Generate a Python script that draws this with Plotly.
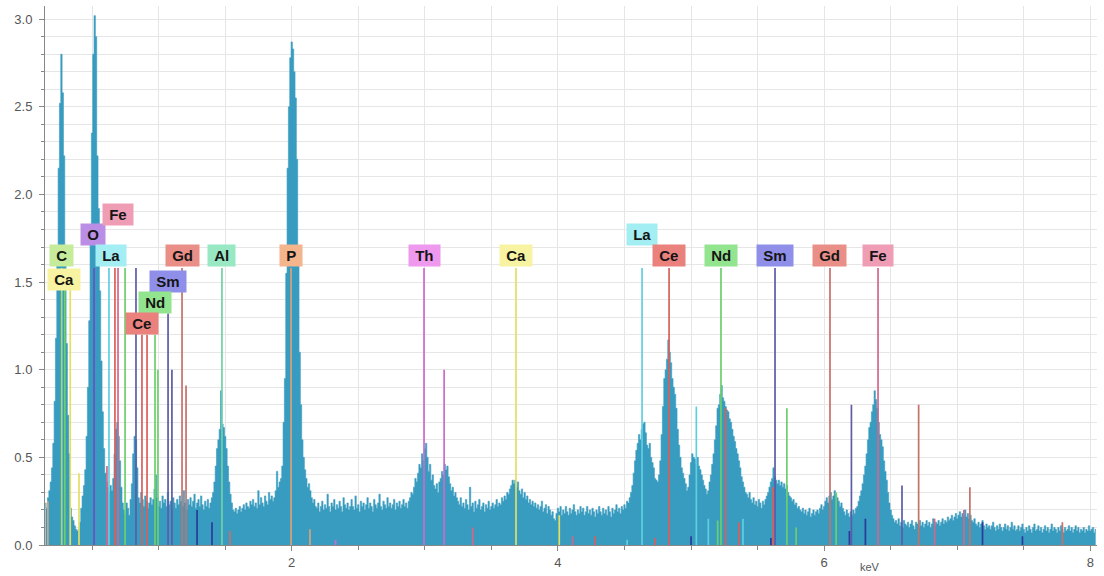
import numpy as np
import plotly.graph_objects as go

# EDS spectrum: counts per 10 eV channel, first channel at 0.15 keV
start_kev = 0.15
channel_kev = 0.01
counts = [
    0.24, 0.21, 0.27, 0.31, 0.36, 0.44, 0.58, 0.82, 1.18, 1.62,   # 0.15
    2.15, 2.52, 2.80, 2.58, 2.22, 1.63, 1.15, 0.74, 0.52, 0.21,   # 0.25
    0.16, 0.14, 0.11, 0.09, 0.08, 0.09, 0.13, 0.21, 0.28, 0.34,   # 0.35
    0.43, 0.62, 0.90, 1.28, 1.80, 2.35, 2.80, 3.02, 2.90, 2.22,   # 0.45
    1.92, 1.45, 1.05, 0.76, 0.55, 0.41, 0.36, 0.33, 0.30, 0.34,   # 0.55
    0.31, 0.38, 0.52, 0.66, 0.70, 0.62, 0.48, 0.33, 0.24, 0.20,   # 0.65
    0.18, 0.24, 0.21, 0.17, 0.26, 0.35, 0.52, 0.62, 0.60, 0.44,   # 0.75
    0.27, 0.24, 0.30, 0.26, 0.22, 0.28, 0.25, 0.21, 0.24, 0.27,   # 0.85
    0.23, 0.26, 0.32, 0.40, 0.27, 0.22, 0.25, 0.21, 0.28, 0.24,   # 0.95
    0.26, 0.22, 0.30, 0.23, 0.25, 0.20, 0.27, 0.24, 0.21, 0.26,   # 1.05
    0.23, 0.28, 0.25, 0.22, 0.31, 0.24, 0.20, 0.26, 0.23, 0.27,   # 1.15
    0.22, 0.25, 0.29, 0.21, 0.24, 0.26, 0.22, 0.28, 0.23, 0.20,   # 1.25
    0.25, 0.22, 0.26, 0.21, 0.24, 0.27, 0.30, 0.36, 0.45, 0.55,   # 1.35
    0.60, 0.66, 0.88, 0.69, 0.67, 0.62, 0.55, 0.45, 0.36, 0.29,   # 1.45
    0.24, 0.20, 0.19, 0.21, 0.18, 0.20, 0.22, 0.19, 0.21, 0.23,   # 1.55
    0.20, 0.24, 0.22, 0.21, 0.25, 0.23, 0.26, 0.22, 0.24, 0.21,   # 1.65
    0.31, 0.23, 0.27, 0.24, 0.22, 0.28, 0.25, 0.23, 0.30, 0.26,   # 1.75
    0.28, 0.25, 0.27, 0.31, 0.42, 0.33, 0.36, 0.38, 0.45, 0.70,   # 1.85
    0.95, 1.55, 2.15, 2.50, 2.78, 2.87, 2.83, 2.70, 2.55, 2.20,   # 1.95
    1.65, 1.10, 0.80, 0.60, 0.50, 0.43, 0.38, 0.33, 0.35, 0.31,   # 2.05
    0.27, 0.24, 0.26, 0.22, 0.21, 0.24, 0.19, 0.22, 0.25, 0.20,   # 2.15
    0.23, 0.21, 0.29, 0.22, 0.19, 0.24, 0.22, 0.26, 0.20, 0.23,   # 2.25
    0.21, 0.25, 0.22, 0.19, 0.27, 0.23, 0.21, 0.24, 0.20, 0.22,   # 2.35
    0.26, 0.22, 0.20, 0.28, 0.21, 0.23, 0.19, 0.25, 0.22, 0.24,   # 2.45
    0.20, 0.23, 0.27, 0.21, 0.24, 0.22, 0.19, 0.26, 0.23, 0.21,   # 2.55
    0.24, 0.29, 0.22, 0.20, 0.25, 0.23, 0.21, 0.27, 0.22, 0.24,   # 2.65
    0.21, 0.23, 0.26, 0.20, 0.24, 0.22, 0.25, 0.21, 0.23, 0.26,   # 2.75
    0.22, 0.24, 0.21, 0.25, 0.27, 0.30, 0.29, 0.33, 0.38, 0.36,   # 2.85
    0.41, 0.46, 0.44, 0.52, 0.48, 0.55, 0.58, 0.50, 0.42, 0.46,   # 2.95
    0.37, 0.40, 0.34, 0.32, 0.35, 0.30, 0.36, 0.38, 0.42, 0.40,   # 3.05
    0.46, 0.43, 0.45, 0.39, 0.35, 0.31, 0.33, 0.28, 0.30, 0.27,   # 3.15
    0.25, 0.23, 0.27, 0.22, 0.24, 0.21, 0.26, 0.23, 0.20, 0.33,   # 3.25
    0.22, 0.24, 0.19, 0.25, 0.21, 0.23, 0.26, 0.20, 0.22, 0.24,   # 3.35
    0.19, 0.23, 0.21, 0.25, 0.20, 0.22, 0.24, 0.21, 0.23, 0.26,   # 3.45
    0.22, 0.24, 0.23, 0.27, 0.25, 0.28, 0.26, 0.30, 0.29, 0.32,   # 3.55
    0.34, 0.37, 0.35, 0.37, 0.33, 0.36, 0.31, 0.29, 0.32, 0.27,   # 3.65
    0.30, 0.26, 0.28, 0.24, 0.26, 0.23, 0.25, 0.22, 0.24, 0.21,   # 3.75
    0.23, 0.20, 0.22, 0.25, 0.19, 0.21, 0.23, 0.18, 0.22, 0.20,   # 3.85
    0.17, 0.19, 0.15, 0.14, 0.18, 0.21, 0.19, 0.22, 0.17, 0.20,   # 3.95
    0.18, 0.22, 0.19, 0.17, 0.21, 0.18, 0.20, 0.23, 0.19, 0.17,   # 4.05
    0.20, 0.18, 0.22, 0.19, 0.21, 0.17, 0.19, 0.22, 0.18, 0.20,   # 4.15
    0.17, 0.21, 0.19, 0.16, 0.20, 0.18, 0.22, 0.19, 0.17, 0.21,   # 4.25
    0.18, 0.20, 0.17, 0.22, 0.19, 0.16, 0.21, 0.18, 0.20, 0.23,   # 4.35
    0.19, 0.21, 0.18, 0.22, 0.20, 0.23, 0.21, 0.25, 0.24, 0.27,   # 4.45
    0.30, 0.34, 0.41, 0.48, 0.54, 0.58, 0.63, 0.60, 0.66, 0.69,   # 4.55
    0.70, 0.64, 0.57, 0.55, 0.58, 0.50, 0.47, 0.44, 0.38, 0.37,   # 4.65
    0.36, 0.40, 0.48, 0.63, 0.79, 0.95, 1.00, 1.06, 1.17, 1.10,   # 4.75
    1.04, 0.95, 0.90, 0.86, 0.78, 0.66, 0.57, 0.50, 0.44, 0.41,   # 4.85
    0.38, 0.35, 0.31, 0.33, 0.40, 0.47, 0.52, 0.50, 0.49, 0.46,   # 4.95
    0.50, 0.45, 0.43, 0.40, 0.37, 0.34, 0.32, 0.29, 0.31, 0.36,   # 5.05
    0.40, 0.46, 0.52, 0.60, 0.68, 0.78, 0.80, 0.86, 0.91, 0.84,   # 5.15
    0.82, 0.79, 0.77, 0.76, 0.72, 0.70, 0.66, 0.62, 0.59, 0.55,   # 5.25
    0.52, 0.48, 0.44, 0.39, 0.36, 0.33, 0.30, 0.29, 0.27, 0.30,   # 5.35
    0.26, 0.24, 0.27, 0.23, 0.25, 0.22, 0.26, 0.24, 0.21, 0.25,   # 5.45
    0.23, 0.26, 0.28, 0.30, 0.33, 0.36, 0.38, 0.44, 0.39, 0.37,   # 5.55
    0.35, 0.37, 0.34, 0.36, 0.33, 0.35, 0.32, 0.34, 0.30, 0.28,   # 5.65
    0.27, 0.25, 0.26, 0.23, 0.24, 0.21, 0.22, 0.20, 0.19, 0.21,   # 5.75
    0.18, 0.20, 0.17, 0.19, 0.21, 0.16, 0.18, 0.20, 0.17, 0.19,   # 5.85
    0.20, 0.18, 0.21, 0.23, 0.20, 0.22, 0.25, 0.27, 0.24, 0.28,   # 5.95
    0.30, 0.26, 0.28, 0.31, 0.29, 0.27, 0.25, 0.22, 0.24, 0.21,   # 6.05
    0.19, 0.17, 0.20, 0.18, 0.16, 0.19, 0.17, 0.20, 0.18, 0.21,   # 6.15
    0.22, 0.25, 0.28, 0.31, 0.35, 0.40, 0.45, 0.52, 0.60, 0.67,   # 6.25
    0.70, 0.76, 0.80, 0.88, 0.83, 0.78, 0.70, 0.63, 0.60, 0.56,   # 6.35
    0.48, 0.42, 0.37, 0.30, 0.24, 0.20, 0.17, 0.15, 0.13, 0.14,   # 6.45
    0.12, 0.15, 0.11, 0.13, 0.10, 0.14, 0.12, 0.11, 0.13, 0.10,   # 6.55
    0.12, 0.14, 0.11, 0.09, 0.13, 0.12, 0.10, 0.14, 0.11, 0.13,   # 6.65
    0.10, 0.12, 0.14, 0.11, 0.13, 0.10, 0.12, 0.15, 0.11, 0.13,   # 6.75
    0.12, 0.14, 0.11, 0.13, 0.15, 0.12, 0.14, 0.13, 0.16, 0.14,   # 6.85
    0.15, 0.17, 0.14, 0.16, 0.18, 0.15, 0.17, 0.19, 0.16, 0.18,   # 6.95
    0.17, 0.20, 0.16, 0.18, 0.15, 0.17, 0.14, 0.13, 0.15, 0.12,   # 7.05
    0.11, 0.13, 0.10, 0.12, 0.14, 0.11, 0.09, 0.12, 0.10, 0.11,   # 7.15
    0.09, 0.11, 0.13, 0.10, 0.08, 0.11, 0.09, 0.12, 0.10, 0.08,   # 7.25
    0.10, 0.12, 0.09, 0.11, 0.08, 0.10, 0.13, 0.09, 0.11, 0.08,   # 7.35
    0.09, 0.11, 0.08, 0.10, 0.12, 0.09, 0.07, 0.10, 0.08, 0.11,   # 7.45
    0.09, 0.07, 0.10, 0.12, 0.08, 0.09, 0.11, 0.08, 0.10, 0.07,   # 7.55
    0.09, 0.11, 0.08, 0.10, 0.07, 0.09, 0.12, 0.08, 0.10, 0.09,   # 7.65
    0.07, 0.10, 0.08, 0.11, 0.09, 0.07, 0.10, 0.08, 0.09, 0.11,   # 7.75
    0.08, 0.10, 0.07, 0.09, 0.11, 0.08, 0.10, 0.07, 0.09, 0.08,   # 7.85
    0.10, 0.07, 0.09, 0.08, 0.11, 0.08, 0.09, 0.10, 0.07, 0.09,   # 7.95
]

# Element marker lines: energy (keV), marker height, element
line_kev = [0.168, 0.272, 0.295, 0.336, 0.402, 0.515, 0.612, 0.627, 0.672, 0.695,
            0.748, 0.830, 0.875, 0.913, 0.973, 0.995, 1.071, 1.100, 1.176, 1.206,
            1.289, 1.401, 1.476, 1.536, 1.995, 2.137, 2.330, 2.994, 3.145, 3.360,
            3.685, 4.010, 4.110, 4.280, 4.520, 4.632, 4.730, 4.835, 5.000, 5.040,
            5.130, 5.200, 5.225, 5.260, 5.360, 5.390, 5.600, 5.615, 5.631, 5.720,
            5.790, 6.044, 6.090, 6.190, 6.205, 6.310, 6.405, 6.585, 6.710, 6.830,
            7.050, 7.095, 7.190, 7.490, 7.790]
line_height = [0.25, 1.58, 1.46, 1.46, 0.41, 1.58, 0.45, 1.58, 1.58, 1.58,
               1.58, 1.58, 1.20, 1.20, 1.20, 1.00, 1.32, 1.00, 1.58, 0.91,
               0.20, 0.13, 1.58, 0.08, 1.58, 0.09, 0.03, 1.58, 1.00, 0.10,
               1.58, 0.17, 0.05, 0.05, 0.03, 1.58, 0.04, 1.58, 0.05, 0.79,
               0.15, 0.14, 1.58, 0.78, 0.13, 0.15, 0.04, 0.33, 1.58, 0.78,
               0.10, 1.58, 0.30, 0.08, 0.80, 0.15, 1.58, 0.34, 0.80, 0.15,
               0.20, 0.33, 0.13, 0.05, 0.13]
line_element = ["P", "C", "Nd", "Ca", "Ca", "O", "Fe", "La", "Ce", "Fe",
                "Nd", "Sm", "Ce", "Ce", "Nd", "Nd", "Sm", "Sm", "Gd", "Gd",
                "escape", "escape", "Al", "Gd", "P", "P", "Th", "Th", "Th", "Fe",
                "Ca", "Ca", "Fe", "Ce", "La", "La", "Ce", "Ce", "escape", "La",
                "La", "Nd", "Nd", "Ce", "Ce", "La", "escape", "Ce", "Sm", "Nd",
                "Nd", "Gd", "Nd", "escape", "Sm", "escape", "Fe", "Sm", "Gd", "Fe",
                "Fe", "Gd", "escape", "escape", "Gd"]

# Element labels: text, energy (keV), vertical level
label_text = ["C", "Ca", "O", "Fe", "La", "Gd", "Sm", "Nd", "Ce", "Al",
              "P", "Th", "Ca", "La", "Ce", "Nd", "Sm", "Gd", "Fe"]
label_kev = [0.267, 0.289, 0.507, 0.695, 0.642, 1.176, 1.071, 0.973, 0.875, 1.476,
             1.995, 2.994, 3.685, 4.632, 4.835, 5.225, 5.631, 6.044, 6.405]
label_level = [1.654, 1.512, 1.774, 1.888, 1.654, 1.654, 1.506, 1.386, 1.266, 1.654,
               1.654, 1.654, 1.654, 1.774, 1.654, 1.654, 1.654, 1.654, 1.654]

line_colors = {
    "C": "#a9d86e", "Ca": "#e3df62", "O": "#6a50c2", "Fe": "#d4668a",
    "La": "#5fcfe0", "Ce": "#d95f5a", "Nd": "#6ccf6c", "Sm": "#5c5ca8",
    "Gd": "#c7706a", "Al": "#6fd0a6", "P": "#d9a27a", "Th": "#cc6acc",
    "escape": "#2a3a9a",
}
box_colors = {
    "C": "#c6eb9a", "Ca": "#f7f3a0", "O": "#bb8ee6", "Fe": "#ef9db5",
    "La": "#a2eef3", "Ce": "#ea817d", "Nd": "#93e48f", "Sm": "#8f8fea",
    "Gd": "#ea8f88", "Al": "#98e8c4", "P": "#f4b48c", "Th": "#ee98ee",
}

energy = np.round(start_kev + channel_kev * np.arange(len(counts)), 3)

fig = go.Figure()

# Spectrum as a filled step histogram
fig.add_trace(go.Scatter(
    x=energy, y=counts, mode="lines", line=dict(shape="hvh", width=0.6, color="#389cc0"),
    fill="tozeroy", fillcolor="#389cc0", hoverinfo="skip", showlegend=False,
))

# Marker lines, one trace per element
for el in line_colors:
    xs, ys = [], []
    for e, h, name in zip(line_kev, line_height, line_element):
        if name == el:
            xs += [e, e, None]
            ys += [0, h, None]
    if xs:
        fig.add_trace(go.Scatter(
            x=xs, y=ys, mode="lines", line=dict(color=line_colors[el], width=1.7),
            hoverinfo="skip", showlegend=False,
        ))

annotations = []
for t, e, lv in zip(label_text, label_kev, label_level):
    annotations.append(dict(
        x=e, y=lv, xref="x", yref="y", showarrow=False,
        text="<b>\u00a0" + t + "\u00a0</b>",
        font=dict(family="Liberation Sans, Arial, sans-serif", size=15, color="#151515"),
        bgcolor=box_colors[t], borderpad=2, xanchor="center", yanchor="middle",
    ))
annotations.append(dict(
    x=6.345, y=-0.056, xref="x", yref="paper", showarrow=False, text="keV",
    font=dict(family="Liberation Sans, Arial, sans-serif", size=11, color="#555"),
    xanchor="center", yanchor="bottom",
))

grid = "#e6e6e6"
axis_font = dict(family="Liberation Sans, Arial, sans-serif", size=13, color="#555")

fig.update_layout(
    width=1104, height=576,
    margin=dict(l=45, r=7, t=6, b=31),
    paper_bgcolor="white", plot_bgcolor="white",
    annotations=annotations,
    xaxis=dict(
        range=[0.1465, 8.05], tickvals=[2, 4, 6, 8], ticktext=["2", "4", "6", "8"],
        ticks="outside", ticklen=5, tickcolor="#888", showline=True, linecolor="#888",
        showgrid=True, gridcolor=grid, zeroline=False, tickfont=axis_font,
        minor=dict(dtick=0.5, tick0=0, ticks="outside", ticklen=4, tickcolor="#888",
                   showgrid=True, gridcolor=grid),
    ),
    yaxis=dict(
        range=[0, 3.075], dtick=0.5, tick0=0, tickformat=".1f",
        ticks="outside", ticklen=5, tickcolor="#888", showline=True, linecolor="#888",
        showgrid=True, gridcolor=grid, zeroline=False, tickfont=axis_font,
        ticklabelstandoff=4,
        minor=dict(dtick=0.1, tick0=0, ticks="outside", ticklen=3, tickcolor="#888",
                   showgrid=True, gridcolor=grid),
    ),
)

fig.write_html("out.html")
